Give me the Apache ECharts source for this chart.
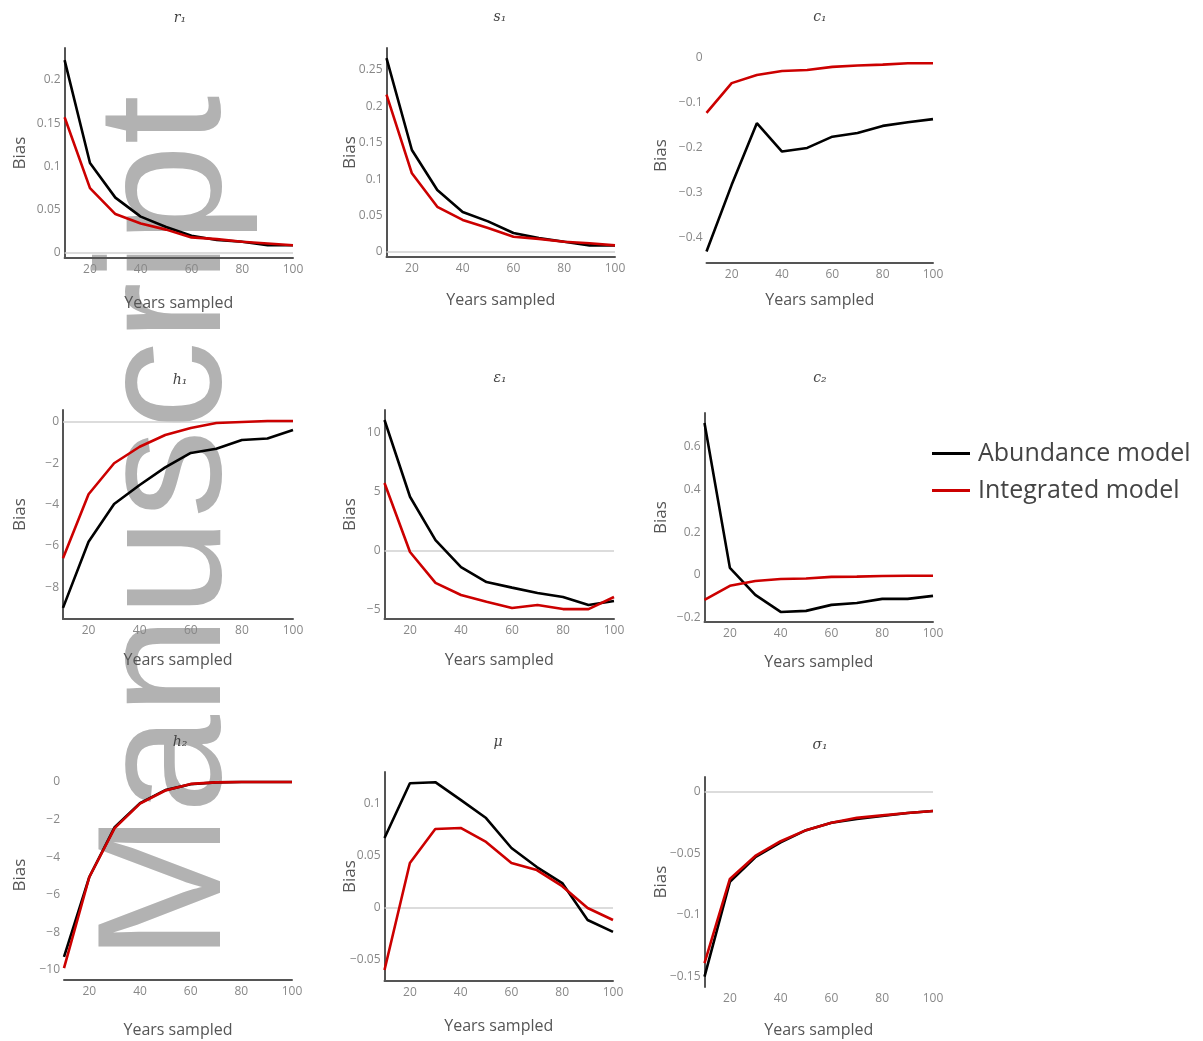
<!DOCTYPE html>
<html><head><meta charset="utf-8">
<script src="https://cdn.jsdelivr.net/npm/echarts@6/dist/echarts.min.js"></script>
<style>html,body{margin:0;padding:0;background:#fff}#c{width:1203px;height:1041px}</style>
</head><body><div id="c"></div>
<script>
// ---- data ----
const years = [10, 20, 30, 40, 50, 60, 70, 80, 90, 100];
const xTicks = [20, 40, 60, 80, 100];

const r1Abund = [0.223, 0.104, 0.064, 0.042, 0.030, 0.020, 0.015, 0.013, 0.009, 0.009];
const r1Integ = [0.157, 0.075, 0.045, 0.034, 0.027, 0.018, 0.016, 0.013, 0.011, 0.009];
const r1Ticks = [0, 0.05, 0.1, 0.15, 0.2];

const s1Abund = [0.266, 0.140, 0.085, 0.055, 0.042, 0.026, 0.019, 0.014, 0.009, 0.009];
const s1Integ = [0.216, 0.108, 0.062, 0.044, 0.033, 0.021, 0.018, 0.014, 0.012, 0.009];
const s1Ticks = [0, 0.05, 0.1, 0.15, 0.2, 0.25];

const c1Abund = [-0.430, -0.282, -0.145, -0.208, -0.200, -0.175, -0.167, -0.151, -0.143, -0.136];
const c1Integ = [-0.122, -0.056, -0.038, -0.029, -0.027, -0.020, -0.017, -0.015, -0.012, -0.012];
const c1Ticks = [-0.4, -0.3, -0.2, -0.1, 0];

const h1Abund = [-9.0, -5.8, -3.97, -3.05, -2.2, -1.5, -1.3, -0.87, -0.8, -0.39];
const h1Integ = [-6.6, -3.5, -2.0, -1.2, -0.63, -0.29, -0.05, 0.0, 0.05, 0.05];
const h1Ticks = [-8, -6, -4, -2, 0];

const e1Abund = [11.1, 4.6, 0.93, -1.36, -2.63, -3.1, -3.56, -3.9, -4.58, -4.24];
const e1Integ = [5.76, -0.08, -2.7, -3.73, -4.3, -4.83, -4.58, -4.92, -4.92, -3.9];
const e1Ticks = [-5, 0, 5, 10];

const c2Abund = [0.71, 0.033, -0.093, -0.173, -0.168, -0.140, -0.131, -0.112, -0.112, -0.098];
const c2Integ = [-0.117, -0.051, -0.028, -0.019, -0.017, -0.009, -0.008, -0.005, -0.004, -0.004];
const c2Ticks = [-0.2, 0, 0.2, 0.4, 0.6];

const h2Abund = [-9.3, -5.05, -2.4, -1.12, -0.43, -0.12, -0.02, 0.0, 0.0, 0.0];
const h2Integ = [-9.9, -5.05, -2.45, -1.15, -0.45, -0.1, -0.02, 0.0, 0.0, 0.0];
const h2Ticks = [-10, -8, -6, -4, -2, 0];

const muAbund = [0.0673, 0.120, 0.121, 0.104, 0.0865, 0.0577, 0.0394, 0.024, -0.0115, -0.023];
const muInteg = [-0.0596, 0.0433, 0.076, 0.077, 0.0635, 0.0433, 0.0365, 0.021, 0.0, -0.0115];
const muTicks = [-0.05, 0, 0.05, 0.1];

const sg1Abund = [-0.150, -0.073, -0.053, -0.041, -0.031, -0.025, -0.022, -0.0195, -0.017, -0.0155];
const sg1Integ = [-0.139, -0.0707, -0.052, -0.040, -0.031, -0.025, -0.021, -0.019, -0.017, -0.0155];
const sg1Ticks = [-0.15, -0.1, -0.05, 0];

const seriesNames = ['Abundance model', 'Integrated model'];
const titles = ['r\u2081', 's\u2081', 'c\u2081', 'h\u2081', '\u03b5\u2081', 'c\u2082', 'h\u2082', '\u03bc', '\u03c3\u2081'];

// ---- layout ----
const panels = [
  {a: r1Abund, b: r1Integ, t: r1Ticks, box: [64.6, 48, 293, 258], y: [-0.0058, 0.237], zero: true, xl: true, yl: true, tp: [180, 18], bx: 20, ys: 303},
  {a: s1Abund, b: s1Integ, t: s1Ticks, box: [386.5, 48, 615, 257], y: [-0.0069, 0.280], zero: true, xl: true, yl: true, tp: [500, 17], bx: 350, ys: 300},
  {a: c1Abund, b: c1Integ, t: c1Ticks, box: [706.5, 48, 933, 263], y: [-0.4556, 0.022], zero: false, xl: true, yl: false, tp: [820, 17], bx: 661, ys: 300},
  {a: h1Abund, b: h1Integ, t: h1Ticks, box: [63, 410, 293, 619], y: [-9.54, 0.58], zero: true, xl: true, yl: true, tp: [180, 380], bx: 20, ys: 660},
  {a: e1Abund, b: e1Integ, t: e1Ticks, box: [384.5, 410, 614, 619], y: [-5.76, 11.95], zero: true, xl: true, yl: true, tp: [500, 378], bx: 350, ys: 660},
  {a: c2Abund, b: c2Integ, t: c2Ticks, box: [704.5, 413, 933, 622], y: [-0.22, 0.757], zero: false, xl: true, yl: true, tp: [820, 378], bx: 661, ys: 662},
  {a: h2Abund, b: h2Integ, t: h2Ticks, box: [64, 770, 292, 980], y: [-10.53, 0.64], zero: false, xl: true, yl: false, tp: [180, 742], bx: 20, ys: 1030},
  {a: muAbund, b: muInteg, t: muTicks, box: [384.5, 772, 613, 981], y: [-0.0702, 0.1308], zero: true, xl: true, yl: true, tp: [498, 742], bx: 350, ys: 1026},
  {a: sg1Abund, b: sg1Integ, t: sg1Ticks, box: [704.5, 777, 933, 987], y: [-0.1585, 0.0122], zero: true, xl: false, yl: true, tp: [820, 745], bx: 661, ys: 1030}
];

const FONT = '"Open Sans", "Noto Sans", sans-serif';
const fmt = v => String(+(+v).toFixed(4)).replace('-', '\u2212');

const grid = [], xAxis = [], yAxis = [], series = [], graphic = [];

graphic.push({
  type: 'text', z: -10, x: 171, y: 961, rotation: Math.PI / 2,
  style: {text: 'Manuscript', font: '177px "Liberation Sans", Arial, sans-serif', fill: '#b2b2b2',
          textAlign: 'left', textVerticalAlign: 'middle'}
});

panels.forEach((p, i) => {
  const [l, t, r, b] = p.box;
  grid.push({left: l, top: t, width: r - l, height: b - t, containLabel: false});
  xAxis.push({
    type: 'value', gridIndex: i, min: 10, max: 100,
    axisLine: {show: p.xl, onZero: false, lineStyle: {color: '#555', width: 2}},
    axisTick: {show: false}, splitLine: {show: false},
    axisLabel: {customValues: xTicks, color: '#888', fontSize: 12, fontFamily: FONT, margin: 6, formatter: fmt}
  });
  yAxis.push({
    type: 'value', gridIndex: i, min: p.y[0], max: p.y[1],
    axisLine: {show: p.yl, onZero: false, lineStyle: {color: '#555', width: 2}},
    axisTick: {show: false}, splitLine: {show: false},
    axisLabel: {customValues: p.t, color: '#888', fontSize: 12, fontFamily: FONT, margin: 4, formatter: fmt}
  });
  [p.a, p.b].forEach((vals, k) => {
    const s = {
      name: seriesNames[k], type: 'line', xAxisIndex: i, yAxisIndex: i,
      data: years.map((x, j) => [x, vals[j]]),
      symbol: 'none', smooth: false,
      lineStyle: {color: k === 0 ? '#000000' : '#cc0000', width: 2.6},
      itemStyle: {color: k === 0 ? '#000000' : '#cc0000'},
      z: 3 + k
    };
    if (k === 0 && p.zero) {
      s.markLine = {silent: true, symbol: 'none', label: {show: false},
        lineStyle: {color: '#d0d0d0', width: 1.5, type: 'solid'}, data: [{yAxis: 0}], z: 1};
    }
    series.push(s);
  });
  graphic.push({type: 'text', x: p.tp[0], y: p.tp[1],
    style: {text: titles[i], font: 'italic 14px "DejaVu Serif", serif', fill: '#444', textAlign: 'center', textVerticalAlign: 'middle'}});
  graphic.push({type: 'text', x: p.bx, y: (t + b) / 2, rotation: Math.PI / 2,
    style: {text: 'Bias', font: '17px ' + FONT, fill: '#555', textAlign: 'center', textVerticalAlign: 'middle'}});
  graphic.push({type: 'text', x: (l + r) / 2, y: p.ys,
    style: {text: 'Years sampled', font: '16px ' + FONT, fill: '#555', textAlign: 'center', textVerticalAlign: 'middle'}});
});

const chart = echarts.init(document.getElementById('c'), null, {renderer: 'canvas'});
chart.setOption({
  animation: false,
  backgroundColor: '#fff',
  grid, xAxis, yAxis, series, graphic,
  legend: {
    data: seriesNames, orient: 'vertical', left: 927, top: 436,
    itemWidth: 38, itemHeight: 3, itemGap: 12,
    icon: 'rect',
    textStyle: {fontSize: 25, color: '#444', fontFamily: FONT, padding: [0, 0, 0, 3]}
  }
});
</script></body></html>
